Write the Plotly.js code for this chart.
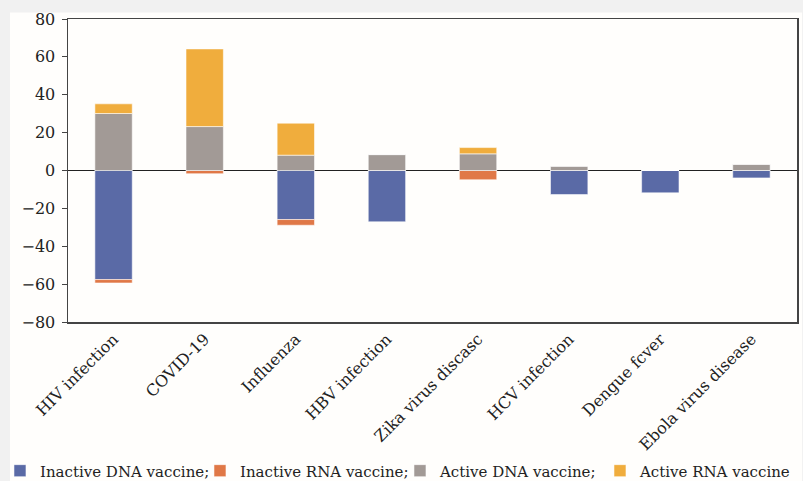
<!DOCTYPE html>
<html>
<head>
<meta charset="utf-8">
<script src="https://cdn.plot.ly/plotly-3.0.1.min.js"></script>
<style>html,body{margin:0;padding:0;background:#f1f1f1;}</style>
</head>
<body>
<div id="chart" style="width:803px;height:481px;"></div>
<script>
var categories = ["HIV infection", "COVID-19", "Influenza", "HBV infection", "Zika virus discasc", "HCV infection", "Dengue fcver", "Ebola virus disease"];
var inactiveDNA = [-57.6, 0, -25.9, -27.1, 0, -12.7, -11.8, -3.9];
var inactiveRNA = [-1.8, -1.7, -3.0, 0, -4.9, 0, 0, 0];
var activeDNA = [30.1, 23.2, 8.1, 8.4, 8.8, 2.3, 0, 3.3];
var activeRNA = [5.1, 41.0, 16.9, 0, 3.3, 0, 0, 0];
var seriesNames = ["Inactive DNA vaccine;", "Inactive RNA vaccine;", "Active DNA vaccine;", "Active RNA vaccine"];
var seriesColors = ["#5a6aa6", "#e07847", "#a29a96", "#f0ad3d"];
var yTicks = [-80, -60, -40, -20, 0, 20, 40, 60, 80];

var seriesValues = [inactiveDNA, inactiveRNA, activeDNA, activeRNA];
var traces = seriesValues.map(function (vals, i) {
  return {
    type: "bar",
    x: categories,
    y: vals,
    name: seriesNames[i],
    width: 0.41,
    marker: { color: seriesColors[i], line: { color: "rgba(255,255,255,0.55)", width: 1 } },
    hoverinfo: "x+y+name"
  };
});

var serif = "DejaVu Serif";
var layout = {
  width: 803,
  height: 481,
  margin: { l: 68, r: 6, t: 19, b: 159, autoexpand: false },
  paper_bgcolor: "#f1f1f1",
  plot_bgcolor: "#fffefc",
  barmode: "relative",
  showlegend: true,
  font: { family: serif, color: "#222", size: 16 },
  xaxis: {
    type: "category",
    showline: true, linecolor: "#444", linewidth: 1.5, mirror: true,
    ticks: "", tickangle: -45,
    tickfont: { family: serif, size: 16, color: "#222" },
    showgrid: false, zeroline: false
  },
  yaxis: {
    range: [-80, 80],
    tickvals: yTicks,
    ticks: "outside", ticklen: 5, tickcolor: "#444", tickwidth: 1,
    showline: true, linecolor: "#444", linewidth: 1.5, mirror: true,
    showgrid: false,
    zeroline: true, zerolinecolor: "#222", zerolinewidth: 1.5,
    tickfont: { family: serif, size: 16, color: "#222" },
    ticklabelstandoff: 3
  },
  legend: {
    orientation: "h",
    xref: "paper", yref: "paper",
    x: -0.0933, xanchor: "left",
    y: -0.437, yanchor: "top",
    font: { family: serif, size: 15, color: "#222" },
    itemwidth: 30,
    entrywidth: 155,
    entrywidthmode: "pixels",
    bgcolor: "rgba(0,0,0,0)",
    traceorder: "normal"
  },
  shapes: [{
    type: "rect", xref: "paper", yref: "paper", layer: "below",
    x0: -0.0796, x1: 1.007, y0: -0.6, y1: 1.0214,
    fillcolor: "#fffefc", line: { width: 0 }
  }]
};

Plotly.newPlot("chart", traces, layout, { displayModeBar: false, staticPlot: true });
</script>
</body>
</html>
